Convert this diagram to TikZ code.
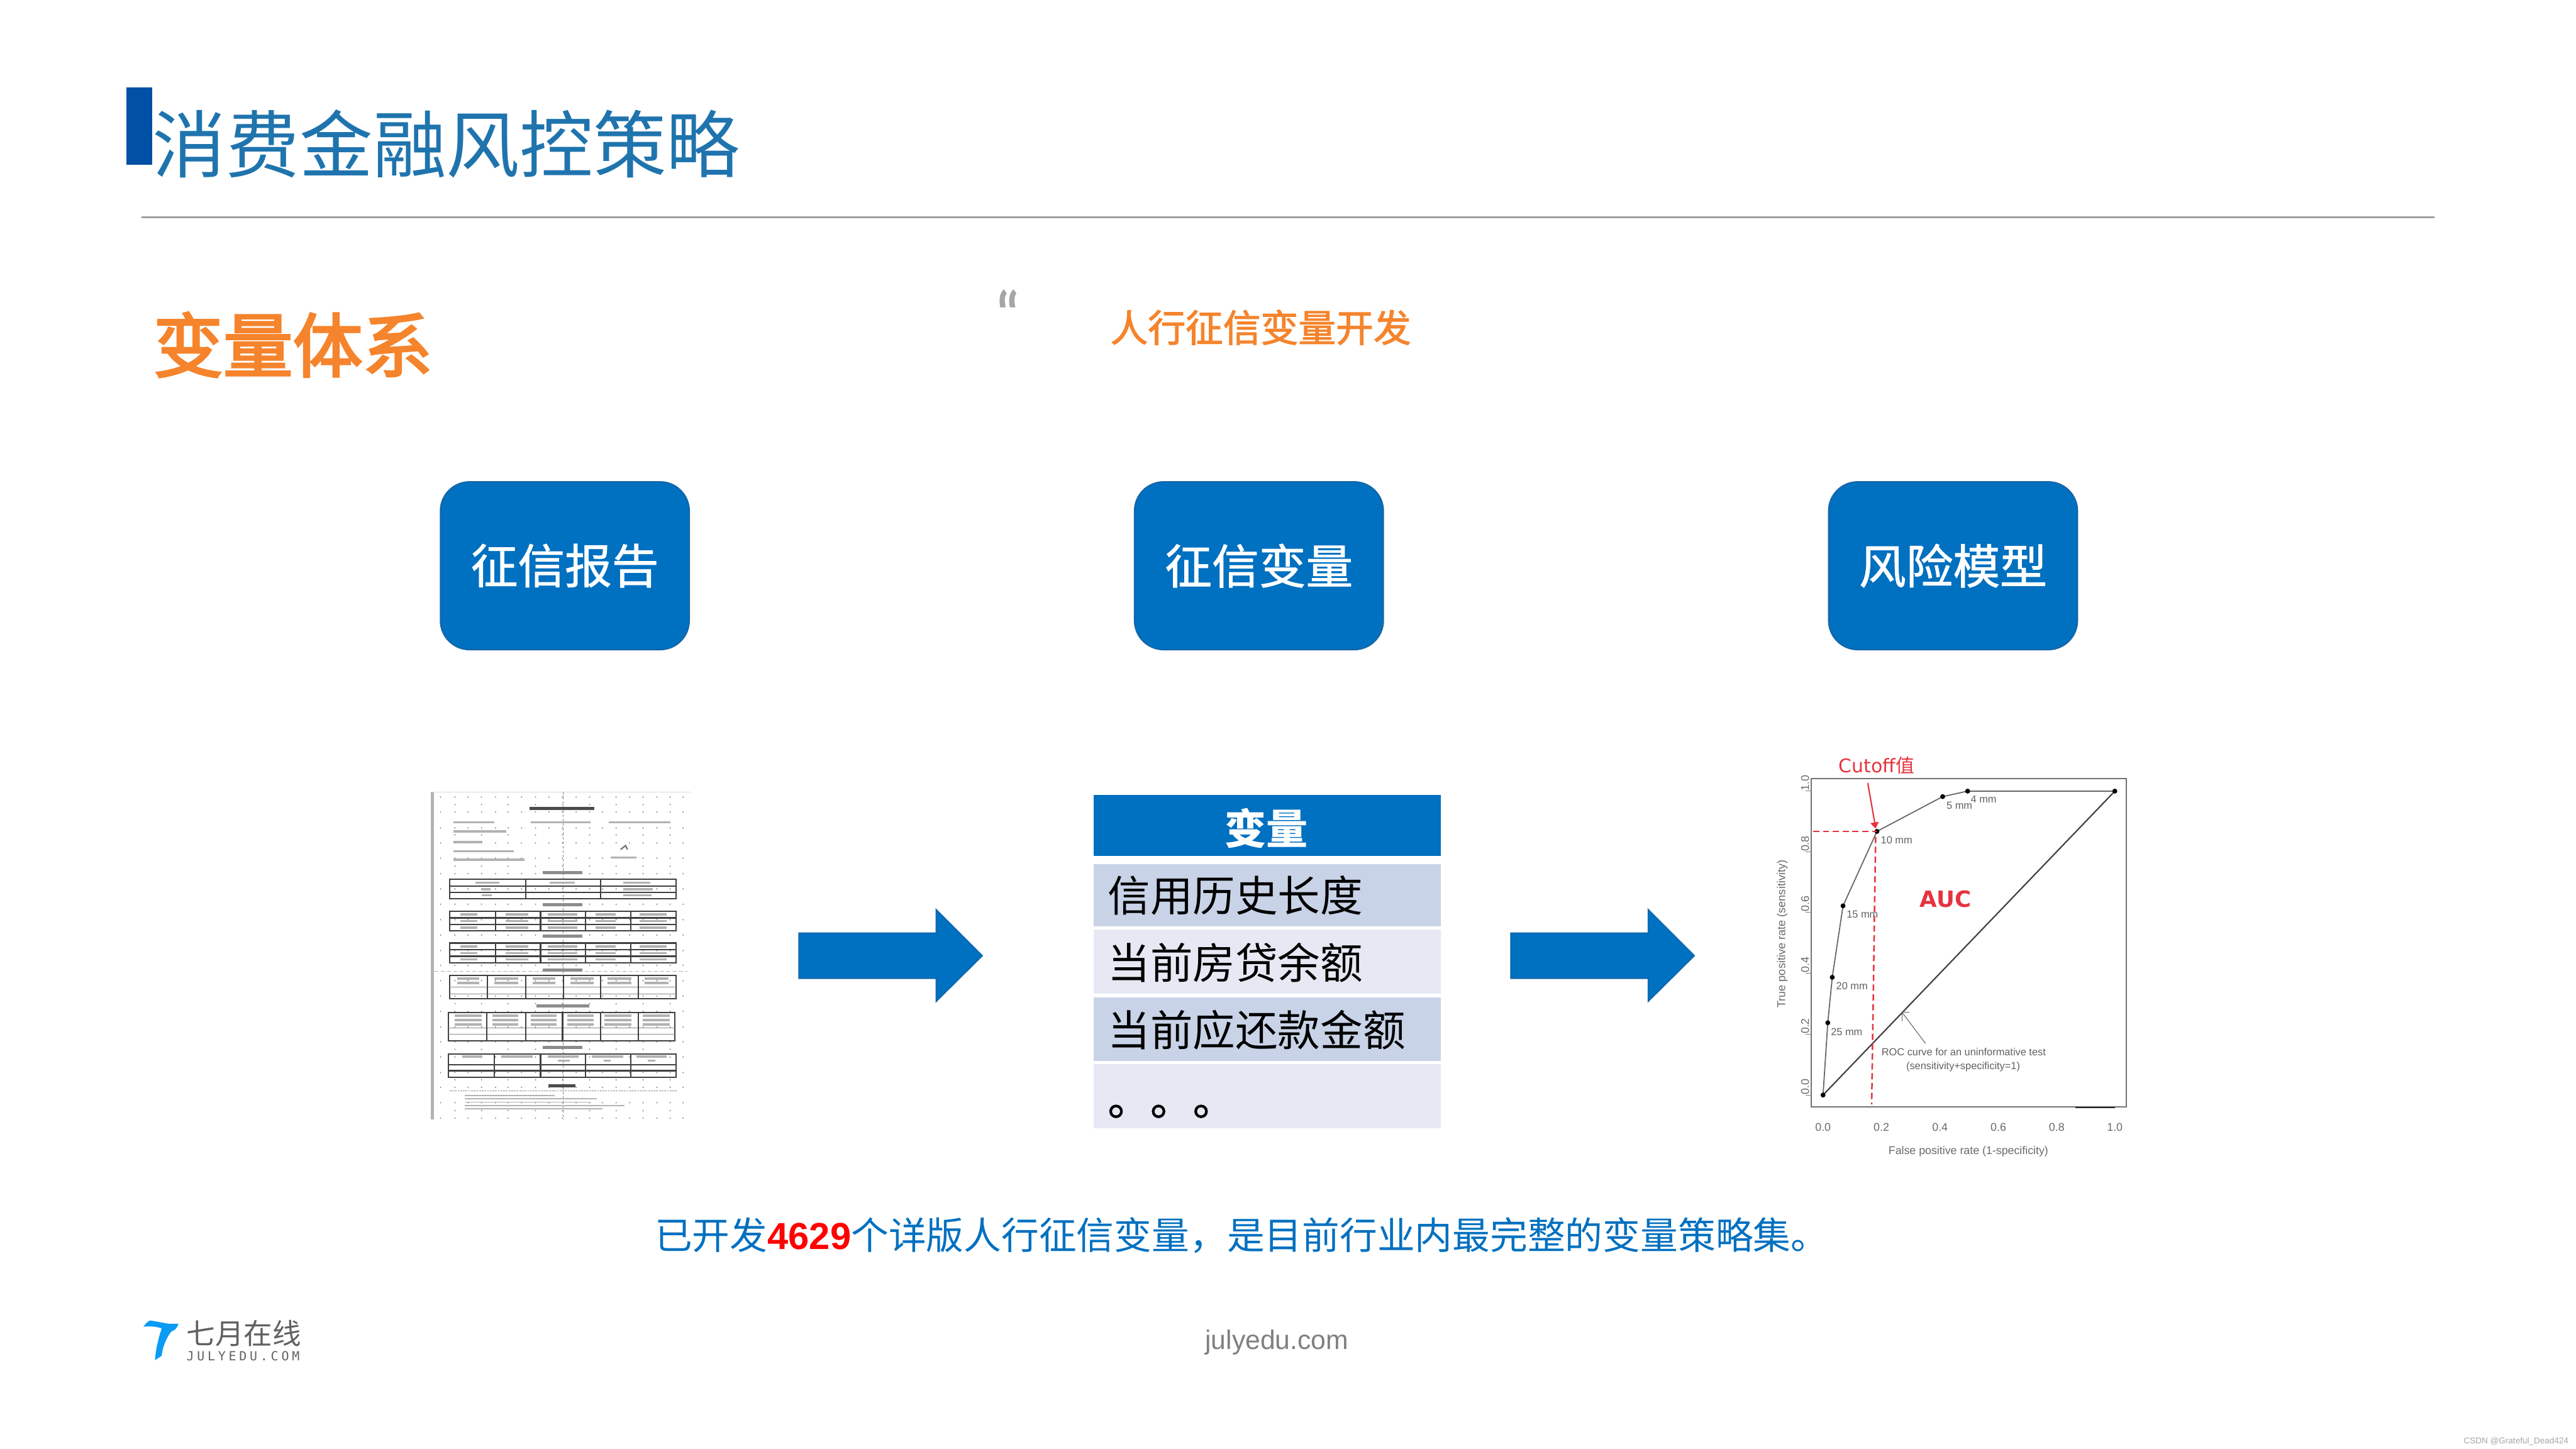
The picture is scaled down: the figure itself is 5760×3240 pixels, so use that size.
\documentclass[tikz,border=0pt]{standalone}
\usepackage{fontspec}
\setmainfont{Liberation Sans}
\newfontfamily\cjk{Noto Sans CJK SC}
\newfontfamily\cjkm[FakeBold=3]{Noto Sans CJK SC}
\newfontfamily\cjkh[FakeBold=2]{Noto Sans CJK SC}
\newfontfamily\cjkn[FakeBold=1.2]{Noto Sans CJK SC}
\newfontfamily\dejavu{DejaVu Sans}
\newfontfamily\quotefont{DejaVu Serif}
\newfontfamily\dejamono[LetterSpace=24]{DejaVu Sans Mono}
\newcommand\fs[1]{\fontsize{\fpeval{#1*0.28453}}{\fpeval{#1*0.34}}\selectfont}
\newcommand\pxx[1]{#1*0.28453pt}
\definecolor{titleblue}{HTML}{1F74AE}
\definecolor{tabblue}{HTML}{0050A5}
\definecolor{boxblue}{HTML}{0070C0}
\definecolor{boxedge}{HTML}{1565A8}
\definecolor{orangetxt}{HTML}{F5842C}
\definecolor{rowa}{HTML}{C9D3E7}
\definecolor{rowb}{HTML}{E6E9F4}
\definecolor{roctxt}{HTML}{6A6A6A}
\definecolor{cutred}{HTML}{E5343F}
\definecolor{logoblue}{HTML}{0A9BF5}
\tikzset{
  txt/.style={inner sep=0pt,outer sep=0pt},
  stepbox/.style={rounded corners=\pxx{65},fill=boxblue,draw=boxedge,line width=\pxx{3},minimum width=\pxx{556},minimum height=\pxx{375},inner sep=0pt,text=white,font=\cjkn\fs{105}},
  bigarrow/.style={fill=boxblue,draw=boxedge,line width=\pxx{2}},
  rowtxt/.style={txt,anchor=west,font=\cjk\fs{95},text=black},
  grid line/.style={line width=\pxx{3},black!75},
  thin line/.style={line width=\pxx{2},black!45},
  smudge/.style={line width=\pxx{5},black!30},
  tick/.style={txt,text=roctxt,font=\fs{25}},
  mm/.style={txt,text=black!62,font=\fs{23}},
  curve/.style={line width=\pxx{2.5},black!60},
  rocpt/.style={circle,fill=black,inner sep=0pt,minimum size=\pxx{11}},
}
\begin{document}
\begin{tikzpicture}[x=0.01cm,y=-0.01cm,line width=\pxx{1}]
\useasboundingbox (0,0) rectangle (5760,3240);
\fill[white] (0,0) rectangle (5760,3240);
% header
\fill[tabblue] (283,195) rectangle (341,369);
\node[txt,text=titleblue,font=\cjk\fs{164}] (title) at (998,321) {消费金融风控策略};
\draw[black!38,line width=\pxx{4}] (316,486) -- (5443,486);
\node[txt,text=orangetxt,font=\cjkm\fs{156}] (sub) at (655,771) {变量体系};
\node[txt,text=black!35,font=\quotefont\bfseries\fs{95},yscale=1.5,xslant=-0.3] (quote) at (2261,700) {“};
\node[txt,text=orangetxt,font=\cjkh\fs{84}] (head) at (2819,732) {人行征信变量开发};
% step boxes
\node[stepbox] (report) at (1263,1265) {征信报告};
\node[stepbox] (vars) at (2815,1265) {征信变量};
\node[stepbox] (model) at (4367,1265) {风险模型};
% arrows
\foreach \a in {1786,3378}{
  \draw[bigarrow] (\a,2086) -- ++(307,0) -- ++(0,-53) -- ++(104,104) -- ++(-104,103) -- ++(0,-52) -- ++(-307,0) -- cycle;
}
% report thumbnail (zoom coordinates)
\begin{scope}[shift={(900,1720)},x=0.004464cm,y=-0.0051cm]
  \fill[black!30] (140,100) rectangle (157,1535);
  \draw[black!15,line width=\pxx{2}] (140,100) -- (1440,100);
  \foreach \yy in {122,187,257,323,390,458,525,592,660,727,795,860,927,995,1062,1130,1195,1262,1330,1395,1462,1530}
    \foreach \xx in {190,262,328,395,465,528,595,665,732,800,868,935,1000,1068,1135,1203,1272,1338,1403}
      \fill[black!45] (\xx,\yy) circle[radius=3.5];
  \foreach \yy in {155,288,425,1028,1228,1362,1497}
    \foreach \xx in {262,395,528,665,800,935,1068,1203,1338}
      \fill[black!45] (\xx,\yy) circle[radius=3.5];
  \draw[black!45,line width=\pxx{2},dash pattern=on \pxx{6} off \pxx{4}] (803,100) -- (803,1535);
  \draw[black!30,line width=\pxx{2},dash pattern=on \pxx{9} off \pxx{5}] (160,887) -- (1425,887);
  % headings and text smudges
  \draw[black!70,line width=\pxx{8}] (635,172) -- (960,172);
  \draw[smudge,line width=\pxx{4}] (255,232) -- (460,232) (640,232) -- (940,232) (1030,232) -- (1340,232);
  \draw[smudge] (255,272) -- (520,272) (255,320) -- (400,320) (255,360) -- (555,360) (255,397) -- (610,397) (1040,387) -- (1170,387);
  \draw[black!50,line width=\pxx{3.5}] (1090,352) -- (1115,335) -- (1125,352);
  \foreach \yy/\aa/\bb in {452/700/900,593/700/900,732/700/900,882/700/900,1038/670/935,1220/700/900}
    \draw[black!45,line width=\pxx{7}] (\aa,\yy) -- (\bb,\yy);
  \draw[black!70,line width=\pxx{7}] (730,1387) -- (865,1387);
  \draw[black!45,line width=\pxx{2},dash pattern=on \pxx{4} off \pxx{2}] (235,1410) -- (1372,1410);
  \draw[smudge,line width=\pxx{2.6}] (310,1430) -- (760,1430) (310,1445) -- (970,1445) (310,1460) -- (940,1460) (310,1475) -- (1110,1475) (310,1490) -- (1000,1490);
  % tables
  \foreach \xa/\xb/\ya/\yb/\hh/\vv/\st in {
    237/1368/483/567/{513,540}/{617,990}/grid line,
    237/1368/623/708/{652,680}/{465,690,915,1140}/grid line,
    237/1368/762/848/{792,820}/{465,690,915,1140}/grid line,
    237/1368/905/1007/{955,985}/{425,615,805,990,1180}/thin line,
    230/1362/1068/1190/{1135,1162}/{422,615,800,990,1180}/thin line,
    230/1368/1248/1350/{1295,1322}/{460,690,915,1140}/grid line}{
    \draw[grid line] (\xa,\ya) rectangle (\xb,\yb);
    \foreach \h in \hh \draw[\st] (\xa,\h) -- (\xb,\h);
    \foreach \v in \vv \draw[grid line] (\v,\ya) -- (\v,\yb);
  }
  % table cell smudges
  \draw[smudge]
    (365,497) -- (485,497) (735,497) -- (860,497) (1105,497) -- (1240,497)
    (395,526) -- (440,526) (1105,526) -- (1250,526) (395,553) -- (445,553) (1105,553) -- (1245,553);
  \foreach \yy in {637,666,694,777,806,834}
    \draw[smudge] (290,\yy) -- (375,\yy) (515,\yy) -- (630,\yy) (725,\yy) -- (875,\yy) (965,\yy) -- (1065,\yy) (1185,\yy) -- (1320,\yy);
  \foreach \yy in {918,938}
    \draw[smudge] (275,\yy) -- (385,\yy) (460,\yy) -- (580,\yy) (650,\yy) -- (765,\yy) (840,\yy) -- (955,\yy) (1025,\yy) -- (1145,\yy) (1210,\yy) -- (1330,\yy);
  \foreach \yy in {1080,1100,1120}
    \draw[smudge] (260,\yy) -- (395,\yy) (450,\yy) -- (580,\yy) (640,\yy) -- (770,\yy) (825,\yy) -- (955,\yy) (1010,\yy) -- (1145,\yy) (1200,\yy) -- (1335,\yy);
  \draw[smudge] (300,1260) -- (400,1260) (495,1260) -- (650,1260) (725,1260) -- (880,1260) (945,1260) -- (1105,1260) (1170,1260) -- (1320,1260) (775,1278) -- (835,1278) (1005,1278) -- (1040,1278) (1225,1278) -- (1265,1278);
\end{scope}
% variable table
\fill[boxblue] (2446,1778) rectangle (3222,1914);
\fill[rowa] (2446,1932) rectangle (3222,2071);
\fill[rowb] (2446,2079) rectangle (3222,2222);
\fill[rowa] (2446,2230) rectangle (3222,2372);
\fill[rowb] (2446,2380) rectangle (3222,2523);
\node[txt,text=white,font=\cjk\bfseries\fs{93}] (vh) at (2832,1852) {变量};
\node[rowtxt] (va) at (2477,2002) {信用历史长度};
\node[rowtxt] (vb) at (2477,2153) {当前房贷余额};
\node[rowtxt] (vc) at (2477,2303) {当前应还款金额};
\node[rowtxt,font=\cjkn\fs{95}] (vd) at (2477,2485) {。。。};
% ROC chart (zoom coordinates)
\begin{scope}[shift={(3900,1660)},x=0.005869cm,y=-0.006124cm]
  \draw[black!55,line width=\pxx{3}] (255,133) rectangle (1453,1332);
  \draw[black!85,line width=\pxx{3}] (1260,1333) -- (1410,1333);
  \foreach \xx/\lab in {300/0.0,522/0.2,745/0.4,967/0.6,1189/0.8,1410/1.0}
    \node[tick] (xt\xx) at (\xx,1405) {\lab};
  \foreach \yy/\lab in {1288/0.0,1066/0.2,843/0.4,620/0.6,400/0.8,178/1.0}{
    \draw[black!50,line width=\pxx{1.5}] (234,\yy) -- (255,\yy);
    \node[tick,rotate=90] (yt\yy) at (232,\yy-30) {\lab};
  }
  \draw[black!75,line width=\pxx{3}] (300,1288) -- (1410,178);
  \draw[curve] (300,1288) -- (318,1024) -- (335,858) -- (376,597) -- (505,325) -- (755,198) -- (850,178) -- (1410,178);
  \foreach \xx/\yy in {300/1288,318/1024,335/858,376/597,505/325,755/198,850/178,1410/178}
    \node[rocpt] (p\xx) at (\xx,\yy) {};
  \draw[cutred,line width=\pxx{3.5},dash pattern=on \pxx{14} off \pxx{8}] (262,325) -- (505,325);
  \draw[cutred,line width=\pxx{3.5},dash pattern=on \pxx{14} off \pxx{8}] (500,345) -- (485,1322);
  \node[txt,text=cutred,font=\dejavu\fs{42},anchor=west] (cut) at (360,85) {Cutoff{\cjk 值}};
  \draw[cutred,line width=\pxx{3}] (470,148) -- (497,295);
  \fill[cutred] (512,290) -- (500,315) -- (480,295) -- cycle;
  \node[txt,text=cutred,font=\dejavu\bfseries\fs{50}] (auc) at (766,572) {AUC};
  \node[mm,anchor=west] (l10) at (520,357) {10 mm};
  \node[mm,anchor=west] (l15) at (390,628) {15 mm};
  \node[mm,anchor=west] (l20) at (350,890) {20 mm};
  \node[mm,anchor=west] (l25) at (330,1058) {25 mm};
  \node[mm,anchor=west] (l5) at (770,230) {5 mm};
  \node[mm,anchor=west] (l4) at (862,208) {4 mm};
  \node[mm] (roca) at (835,1130) {ROC curve for an uninformative test};
  \node[mm] (rocb) at (833,1185) {(sensitivity+specificity=1)};
  \coordinate (nf) at (690,1100);
  \coordinate (nt) at (600,985);
  \draw[black!60,line width=\pxx{1.5}] (nf) -- (nt);
  \draw[black!60,line width=\pxx{1.5}] (628,985) -- (nt) -- (600,1018);
  \node[txt,text=roctxt,font=\fs{25}] (xlab) at (853,1493) {False positive rate (1-specificity)};
  \node[txt,text=roctxt,font=\fs{25.5},rotate=90] (ylab) at (145,700) {True positive rate (sensitivity)};
\end{scope}
% bottom line
\node[txt,anchor=west,text=boxblue,font=\cjk\fs{84}] (foot) at (1464,2762) {已开发{\color{red}\rmfamily\bfseries 4629}个详版人行征信变量，是目前行业内最完整的变量策略集。};
% logo
\begin{scope}[shift={(280,2900)},x=0.00333cm,y=-0.00333cm]
  \fill[logoblue] (122,200) .. controls (140,175) and (155,160) .. (170,158) -- (290,180) -- (358,180) .. controls (350,205) and (335,225) .. (310,232) .. controls (275,275) and (250,340) .. (245,395) -- (200,425) .. controls (205,350) and (225,270) .. (245,212) .. controls (220,200) and (170,195) .. (122,200) -- cycle;
\end{scope}
\node[txt,anchor=west,text=black!62,font=\cjk\fs{64}] (logoa) at (417,2982) {七月在线};
\node[txt,anchor=west,text=black!62,font=\dejamono\fs{28}] (logob) at (417,3032) {JULYEDU.COM};
\node[txt,text=black!50,font=\fs{60}] (site) at (2855,3002) {julyedu.com};
\node[txt,anchor=east,text=black!35,font=\fs{19}] (mark) at (5743,3223) {CSDN @Grateful\_Dead424};
\end{tikzpicture}
\end{document}
